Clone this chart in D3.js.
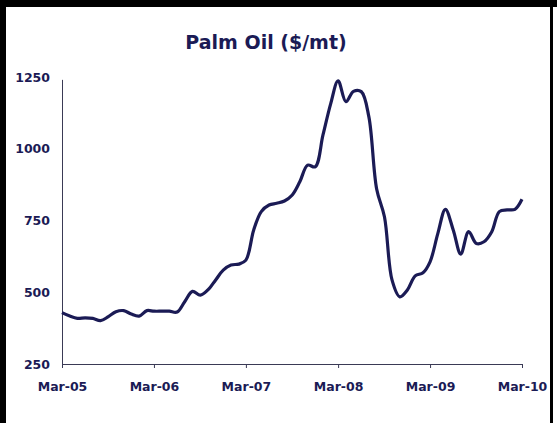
<!DOCTYPE html>
<html>
<head>
<meta charset="utf-8">
<script src="https://cdn.jsdelivr.net/npm/d3@7/dist/d3.min.js"></script>
<style>
  html, body { margin: 0; padding: 0; background: #fff; }
  svg { display: block; }
</style>
</head>
<body>
<svg id="chart" width="557" height="423"></svg>
<script>
// ---- Data ----
const title = "Palm Oil ($/mt)";
const startYear = 2005, startMonth = 2; // March 2005
const prices = [
  429, 417, 409, 411, 409, 401, 415, 432, 436, 424, 417, 436,
  434, 434, 434, 431, 467, 503, 490, 508, 543, 577, 595, 598,
  612, 717, 781, 804, 810, 818, 839, 885, 943, 937, 1048, 1158,
  1237, 1164, 1200, 1199, 1112, 860, 763, 543, 484, 508, 557, 568,
  606, 705, 789, 717, 633, 711, 670, 676, 711, 781, 787, 789,
  824
];
const yTicks = [250, 500, 750, 1000, 1250];
const xTickLabels = ["Mar-05", "Mar-06", "Mar-07", "Mar-08", "Mar-09", "Mar-10"];

const dates = prices.map((_, i) => new Date(startYear, startMonth + i, 1));
const data = prices.map((v, i) => ({ date: dates[i], value: v }));
const xTickDates = xTickLabels.map((_, i) => new Date(startYear + i, startMonth, 1));

// ---- Layout ----
const svg = d3.select("#chart");
const navy = "#1b1b55";
const x = d3.scaleTime().domain([dates[0], dates[dates.length - 1]]).range([62, 522]);
const y = d3.scaleLinear().domain([250, 1250]).range([364, 77]);

// Borders
svg.append("rect").attr("x", 0).attr("y", 0).attr("width", 557).attr("height", 7).attr("fill", "#000");
svg.append("rect").attr("x", 0).attr("y", 0).attr("width", 6).attr("height", 423).attr("fill", "#000");
svg.append("rect").attr("x", 550).attr("y", 0).attr("width", 3).attr("height", 423).attr("fill", "#000");

// Title
svg.append("text")
  .attr("x", 266).attr("y", 49)
  .attr("text-anchor", "middle")
  .attr("font-family", "DejaVu Sans, Verdana, sans-serif")
  .attr("font-weight", "bold")
  .attr("font-size", 19)
  .attr("fill", navy)
  .text(title);

// Y axis
const yAxis = d3.axisLeft(y).tickValues(yTicks).tickSize(0).tickPadding(12).tickFormat(d3.format("d"));
const gy = svg.append("g").attr("transform", "translate(62,0)").call(yAxis);
gy.select(".domain").attr("stroke", "#3a3a55").attr("stroke-width", 1).attr("d", `M0.5,${y(1240)}V${y(250)}`);
gy.selectAll("text")
  .attr("font-family", "DejaVu Sans, Verdana, sans-serif")
  .attr("font-weight", "bold")
  .attr("font-size", 12.5)
  .attr("fill", navy);

// X axis
const xAxis = d3.axisBottom(x).tickValues(xTickDates).tickSize(4).tickSizeOuter(0).tickPadding(14)
  .tickFormat((d, i) => xTickLabels[i]);
const gx = svg.append("g").attr("transform", "translate(0,364)").call(xAxis);
gx.select(".domain").attr("stroke", "#3a3a55").attr("stroke-width", 1.2);
gx.selectAll(".tick line").attr("stroke", "#3a3a55");
gx.selectAll("text")
  .attr("font-family", "DejaVu Sans, Verdana, sans-serif")
  .attr("font-weight", "bold")
  .attr("font-size", 12.5)
  .attr("fill", navy);

// Line
const line = d3.line()
  .x(d => x(d.date))
  .y(d => y(d.value))
  .curve(d3.curveCatmullRom.alpha(0.5));
svg.append("path")
  .datum(data)
  .attr("fill", "none")
  .attr("stroke", navy)
  .attr("stroke-width", 3.2)
  .attr("stroke-linejoin", "round")
  .attr("d", line);
</script>
</body>
</html>
